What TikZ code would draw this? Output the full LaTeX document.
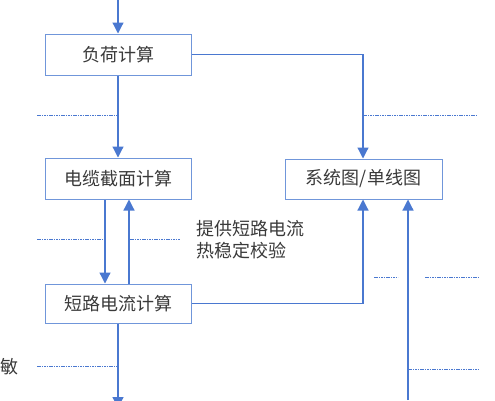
\documentclass[tikz,border=0pt]{standalone}
\usepackage{fontspec}
\usepackage{tikz}
\usetikzlibrary{arrows.meta}
\newfontfamily\cjkfont{Noto Sans CJK SC}
\pgfdeclarelayer{background}
\pgfsetlayers{background,main}
\definecolor{flowblue}{HTML}{4A78D0}
\definecolor{boxblue}{HTML}{7096DA}
\definecolor{txtgray}{HTML}{3A3A3A}

\begin{document}
\begin{tikzpicture}[x=1pt, y=-1pt,
						calcbox/.style={rectangle, draw=boxblue, line width=1pt, fill=white, text=txtgray, font=\cjkfont\fontsize{18}{22}\selectfont},
						flow/.style={draw=flowblue, line width=1.2pt, -{Triangle[length=11pt,width=11pt]}},
						dotline/.style={draw=flowblue, line width=0.7pt, dash pattern=on 1.6pt off 0.8pt},
						note/.style={text=txtgray, font=\cjkfont\fontsize{18}{22}\selectfont, align=left, inner sep=0pt},
						]
						\useasboundingbox (0,0) rectangle (495,400);
						\clip (0,0) rectangle (495,400);
						%Nodes
						\node[calcbox, minimum width=146pt, minimum height=41pt] (load)   at (118,54.5)  {负荷计算};
						\node[calcbox, minimum width=146pt, minimum height=41pt] (cable)  at (118,178.5) {电缆截面计算};
						\node[calcbox, minimum width=146pt, minimum height=39pt] (sc)     at (118,303.5) {短路电流计算};
						\node[calcbox, minimum width=157pt, minimum height=40pt] (single) at (363.5,179) {系统图/单线图};
						\node[note, anchor=west] (hint)   at (196,240) {提供短路电流\\热稳定校验};
						\node[note, anchor=west] (sens)   at (0.5,367) {敏};
						\coordinate (topin)  at (118,0);
						\coordinate (botout) at (118,408);
						\coordinate (botin)  at (408,400);
						\coordinate (loadturn) at (363,54.5);
						\coordinate (scturn)   at (363,303.5);

						\begin{pgfonlayer}{background}
						%Lines
						\draw[flow] (topin) -- (load.north);
						\draw[flow] (load.south) -- (cable.north);
						\draw[flow] (load.east) -- (loadturn) -- (single.north -| loadturn);
						\draw[flow] (cable.south -| 105,0) -- (sc.north -| 105,0);
						\draw[flow] (sc.north -| 129,0) -- (cable.south -| 129,0);
						\draw[flow] (sc.east) -- (scturn) -- (single.south -| scturn);
						\draw[flow] (sc.south) -- (botout);
						\draw[flow] (botin) -- (single.south -| botin);

						%Dotted guides
						\draw[dotline] (37,115) -- (118,115);
						\draw[dotline] (363,115) -- (478,115);
						\draw[dotline] (37,239) -- (105,239);
						\draw[dotline] (130,239) -- (180,239);
						\draw[dotline] (374,277) -- (398,277);
						\draw[dotline] (425,277) -- (478,277);
						\draw[dotline] (408,369) -- (478,369);
						\draw[dotline] (37,366) -- (118,366);
						\end{pgfonlayer}
					\end{tikzpicture}
\end{document}
